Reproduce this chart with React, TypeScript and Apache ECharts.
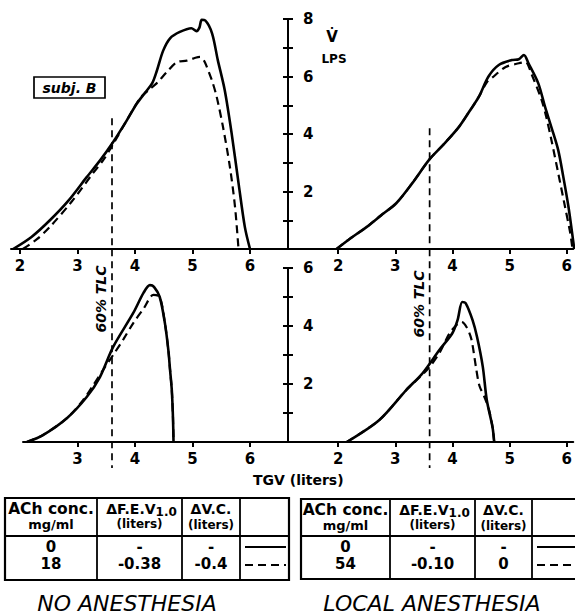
import React, { useEffect, useRef } from "react";
import * as echarts from "echarts";

type Pt = [number, number];

// ---- Data (TGV in liters, flow in liters/sec) ----
// Top-left: no anesthesia, full expiratory flow-volume curves
const noAnesControl: Pt[] = [
  [1.88, 0], [2.2, 0.42], [2.52, 1.0], [2.85, 1.7], [3.16, 2.5], [3.4, 3.1], [3.62, 3.72],
  [3.85, 4.45], [4.03, 5.05], [4.18, 5.45], [4.3, 5.77], [4.38, 6.2], [4.49, 6.9], [4.61, 7.33],
  [4.78, 7.55], [4.98, 7.68], [5.07, 7.58], [5.12, 7.7], [5.16, 7.97], [5.22, 7.95], [5.34, 7.5],
  [5.44, 6.57], [5.56, 5.53], [5.68, 4.03], [5.8, 2.3], [5.91, 0.77], [6.0, 0],
];
const noAnesACh: Pt[] = [
  [2.05, 0], [2.3, 0.35], [2.52, 0.77], [2.9, 1.65], [3.27, 2.64], [3.45, 3.1], [3.62, 3.65],
  [3.85, 4.45], [4.09, 5.25], [4.25, 5.55], [4.38, 5.77], [4.55, 6.15], [4.73, 6.5], [4.9, 6.55],
  [5.05, 6.65], [5.13, 6.68], [5.2, 6.55], [5.25, 6.33], [5.34, 5.85], [5.42, 5.3], [5.53, 4.25],
  [5.65, 2.86], [5.74, 1.46], [5.8, 0],
];
// Top-right: local anesthesia, full curves
const localControl: Pt[] = [
  [1.97, 0], [2.2, 0.35], [2.5, 0.77], [2.75, 1.17], [3.02, 1.6], [3.3, 2.3], [3.59, 3.1],
  [3.85, 3.65], [4.11, 4.24], [4.3, 4.8], [4.46, 5.29], [4.63, 6.0], [4.81, 6.4], [5.04, 6.57],
  [5.16, 6.6], [5.25, 6.75], [5.33, 6.46], [5.5, 5.77], [5.62, 4.94], [5.73, 4.24], [5.85, 3.44],
  [5.94, 2.5], [6.03, 1.46], [6.11, 0.31], [6.13, 0],
];
const localACh: Pt[] = [
  [1.97, 0], [2.2, 0.35], [2.5, 0.77], [2.75, 1.17], [3.02, 1.6], [3.3, 2.3], [3.59, 3.1],
  [3.85, 3.65], [4.11, 4.24], [4.3, 4.8], [4.46, 5.29], [4.6, 5.8], [4.69, 5.95], [4.93, 6.33],
  [5.16, 6.46], [5.28, 6.5], [5.38, 6.1], [5.56, 5.18], [5.64, 4.6], [5.73, 3.8], [5.85, 2.64],
  [5.97, 1.46], [6.06, 0.56], [6.1, 0],
];
// Bottom-left: no anesthesia, partial curves
const noAnesPartialControl: Pt[] = [
  [2.12, 0], [2.4, 0.24], [2.82, 0.83], [3.16, 1.55], [3.39, 2.24], [3.62, 3.28], [3.97, 4.45],
  [4.15, 5.15], [4.26, 5.41], [4.33, 5.35], [4.43, 5.0], [4.52, 4.1], [4.58, 3.17], [4.61, 2.48],
  [4.64, 1.79], [4.66, 0.86], [4.67, 0],
];
const noAnesPartialACh: Pt[] = [
  [2.12, 0], [2.4, 0.24], [2.82, 0.83], [3.1, 1.45], [3.27, 1.95], [3.45, 2.5], [3.62, 3.0],
  [3.8, 3.55], [3.97, 4.1], [4.15, 4.6], [4.32, 5.07], [4.43, 5.0], [4.52, 4.1], [4.58, 3.17],
  [4.61, 2.48], [4.64, 1.79], [4.66, 0.86], [4.67, 0],
];
// Bottom-right: local anesthesia, partial curves
const localPartialControl: Pt[] = [
  [2.15, 0], [2.72, 0.76], [3.19, 1.79], [3.48, 2.38], [3.77, 3.17], [4.0, 3.76], [4.09, 4.21],
  [4.17, 4.83], [4.23, 4.79], [4.35, 4.21], [4.43, 3.62], [4.53, 2.6], [4.6, 1.45], [4.7, 0.52],
  [4.73, 0],
];
const localPartialACh: Pt[] = [
  [2.15, 0], [2.72, 0.76], [3.19, 1.79], [3.43, 2.24], [3.6, 2.59], [3.78, 3.1], [3.95, 3.76],
  [4.08, 4.05], [4.16, 4.14], [4.25, 3.95], [4.33, 3.55], [4.41, 2.59], [4.47, 1.95], [4.57, 1.5],
  [4.64, 1.1], [4.7, 0.52], [4.73, 0],
];

// 60% TLC marker (liters) and the flow where the dashed marker starts/ends
const tlc60 = 3.6;
const tlcTopStartLeft = 4.55;
const tlcTopStartRight = 4.2;
const tlcBottomStart = 6.65;
const tlcBottomEnd = -0.9;

// Tick values
const topXTicks = [2, 3, 4, 5, 6];
const bottomLeftXTicks = [3, 4, 5, 6];
const bottomRightXTicks = [2, 3, 4, 5, 6];
const topFlowMax = 8;
const bottomFlowMax = 6;

// Tables
const headerCol1 = ["ACh conc.", "mg/ml"];
const headerCol2 = ["ΔF.E.V", "1.0", "(liters)"];
const headerCol3 = ["ΔV.C.", "(liters)"];
const leftRows = [["0", "-", "-"], ["18", "-0.38", "-0.4"]];
const rightRows = [["0", "-", "-"], ["54", "-0.10", "0"]];
const leftCaption = "NO ANESTHESIA";
const rightCaption = "LOCAL ANESTHESIA";

// ---- Layout ----
const FONT = '"DejaVu Sans", "Liberation Sans", Arial, sans-serif';
const S = 57.5; // px per liter
const LEFT_2PX = 20;
const RIGHT_2PX = 338.5;
const AXIS_X = 288;
const W = 575;
const TOP_Y = 19, TOP_H = 230;
const BOT_Y = 268, BOT_H = 174;
const TL_LEFT = 11;
const BL_LEFT = 23;

const toVal = (px: number, base: number) => 2 + (px - base) / S;

function xAxisFor(gridIndex: number, min: number, max: number, ticks: number[]) {
  return {
    type: "value",
    gridIndex,
    min,
    max,
    axisLine: { show: true, onZero: false, lineStyle: { color: "#000", width: 2 } },
    axisTick: { show: true, customValues: ticks, length: 5, lineStyle: { color: "#000", width: 2 } },
    axisLabel: {
      show: true,
      customValues: ticks,
      margin: 9,
      color: "#000",
      fontSize: 15,
      fontWeight: "bold",
      fontFamily: FONT,
      formatter: (v: number) => String(Math.round(v)),
    },
    splitLine: { show: false },
  };
}

function yAxisFor(gridIndex: number, max: number, position: string, showLabel: boolean) {
  return {
    type: "value",
    gridIndex,
    min: 0,
    max,
    interval: 1,
    position,
    axisLine: { show: true, onZero: false, lineStyle: { color: "#000", width: 2 } },
    axisTick: { show: true, length: 5, lineStyle: { color: "#000", width: 2 } },
    axisLabel: {
      show: showLabel,
      inside: true,
      margin: 15,
      color: "#000",
      fontSize: 15,
      fontWeight: "bold",
      fontFamily: FONT,
      formatter: (v: number) => (v % 2 === 0 && v > 0 ? String(v) : ""),
    },
    splitLine: { show: false },
  };
}

function curve(data: Pt[], idx: number, dashed: boolean) {
  return {
    type: "line",
    xAxisIndex: idx,
    yAxisIndex: idx,
    data,
    showSymbol: false,
    smooth: 0.3,
    z: dashed ? 2 : 3,
    lineStyle: dashed
      ? { color: "#000", width: 2.2, type: [8, 5] }
      : { color: "#000", width: 2.6 },
  };
}

function tlcLine(idx: number, from: number, to: number) {
  return {
    type: "line",
    xAxisIndex: idx,
    yAxisIndex: idx,
    data: [[tlc60, from], [tlc60, to]],
    showSymbol: false,
    clip: false,
    z: 1,
    lineStyle: { color: "#000", width: 1.7, type: [7, 5] },
  };
}

function txt(x: number, y: number, text: string, size: number, opts: any = {}) {
  return {
    type: "text",
    x,
    y,
    rotation: opts.rotation || 0,
    z: 10,
    style: {
      text,
      fill: "#000",
      fontSize: size,
      fontWeight: opts.weight || "bold",
      fontStyle: opts.italic ? "italic" : "normal",
      fontFamily: FONT,
      align: opts.align || "center",
      verticalAlign: "middle",
      rich: opts.rich,
    },
  };
}

function table(x0: number, x1: number, top: number, mid: number, bottom: number, cols: number[], rows: string[][]) {
  const els: any[] = [];
  els.push({ type: "rect", shape: { x: x0, y: top, width: x1 - x0, height: bottom - top }, style: { fill: "none", stroke: "#000", lineWidth: 2.2 }, z: 10 });
  els.push({ type: "line", shape: { x1: x0, y1: mid, x2: x1, y2: mid }, style: { stroke: "#000", lineWidth: 1.8 }, z: 10 });
  cols.forEach((c) => {
    els.push({ type: "line", shape: { x1: c, y1: top, x2: c, y2: bottom }, style: { stroke: "#000", lineWidth: 1.8 }, z: 10 });
  });
  const centers = [(x0 + cols[0]) / 2, (cols[0] + cols[1]) / 2, (cols[1] + cols[2]) / 2];
  const h1 = top + 11, h2 = top + 26;
  els.push(txt(centers[0], h1, headerCol1[0], 15.5));
  els.push(txt(centers[0], h2, headerCol1[1], 13));
  els.push(txt(centers[1] + 2, h1, `{a|${headerCol2[0]}}{b|${headerCol2[1]}}`, 14, {
    rich: {
      a: { fontSize: 14, fontWeight: "bold", fontFamily: FONT, fill: "#000" },
      b: { fontSize: 12, fontWeight: "bold", fontFamily: FONT, fill: "#000", padding: [6, 0, 0, 0] },
    },
  }));
  els.push(txt(centers[1], h2, headerCol2[2], 12));
  els.push(txt(centers[2], h1, headerCol3[0], 14));
  els.push(txt(centers[2], h2 + 1, headerCol3[1], 12));
  const rowY = [mid + 11, mid + 28];
  rows.forEach((r, ri) => {
    r.forEach((cell, ci) => els.push(txt(centers[ci], rowY[ri], cell, 15)));
  });
  const lx0 = cols[2] + 5, lx1 = Math.min(x1 - 3, W);
  els.push({ type: "line", shape: { x1: lx0, y1: rowY[0], x2: lx1, y2: rowY[0] }, style: { stroke: "#000", lineWidth: 2 }, z: 10 });
  els.push({ type: "line", shape: { x1: lx0, y1: rowY[1] + 1, x2: lx1, y2: rowY[1] + 1 }, style: { stroke: "#000", lineWidth: 2, lineDash: [8, 5] }, z: 10 });
  return els;
}

export default function App() {
  const ref = useRef<HTMLDivElement>(null);
  useEffect(() => {
    if (!ref.current) return;
    const chart = echarts.init(ref.current, undefined, { renderer: "svg" });
    const graphics: any[] = [
      { type: "rect", shape: { x: 34, y: 77, width: 71, height: 21 }, style: { fill: "#fff", stroke: "#000", lineWidth: 1.7 }, z: 10 },
      txt(69.5, 88, "subj. B", 14, { italic: true }),
      txt(332, 37, "V\u0307", 15),
      txt(334, 59, "LPS", 12),
      txt(101, 299, "60% TLC", 14, { italic: true, rotation: Math.PI / 2 }),
      txt(419, 304, "60% TLC", 14, { italic: true, rotation: Math.PI / 2 }),
      txt(253, 480, "TGV (liters)", 14, { align: "left" }),
      txt(127, 603, leftCaption, 22, { italic: true, weight: "normal" }),
      txt(432, 603, rightCaption, 22, { italic: true, weight: "normal" }),
      ...table(5, 289, 498, 536, 580, [97, 182, 240], leftRows),
      ...table(301, 585, 499, 536, 579, [390, 475, 532], rightRows),
    ];
    chart.setOption({
      animation: false,
      backgroundColor: "#fff",
      grid: [
        { left: TL_LEFT, top: TOP_Y, width: AXIS_X - TL_LEFT, height: TOP_H },
        { left: AXIS_X, top: TOP_Y, width: W - AXIS_X, height: TOP_H },
        { left: BL_LEFT, top: BOT_Y, width: AXIS_X - BL_LEFT, height: BOT_H },
        { left: AXIS_X, top: BOT_Y, width: W - AXIS_X, height: BOT_H },
      ],
      xAxis: [
        xAxisFor(0, toVal(TL_LEFT, LEFT_2PX), toVal(AXIS_X, LEFT_2PX), topXTicks),
        xAxisFor(1, toVal(AXIS_X, RIGHT_2PX), toVal(W, RIGHT_2PX), topXTicks),
        xAxisFor(2, toVal(BL_LEFT, LEFT_2PX), toVal(AXIS_X, LEFT_2PX), bottomLeftXTicks),
        xAxisFor(3, toVal(AXIS_X, RIGHT_2PX), toVal(W, RIGHT_2PX), bottomRightXTicks),
      ],
      yAxis: [
        yAxisFor(0, topFlowMax, "right", false),
        yAxisFor(1, topFlowMax, "left", true),
        yAxisFor(2, bottomFlowMax, "right", false),
        yAxisFor(3, bottomFlowMax, "left", true),
      ],
      series: [
        curve(noAnesACh, 0, true),
        curve(noAnesControl, 0, false),
        curve(localACh, 1, true),
        curve(localControl, 1, false),
        curve(noAnesPartialACh, 2, true),
        curve(noAnesPartialControl, 2, false),
        curve(localPartialACh, 3, true),
        curve(localPartialControl, 3, false),
        tlcLine(0, tlcTopStartLeft, 0),
        tlcLine(1, tlcTopStartRight, 0),
        tlcLine(2, tlcBottomStart, tlcBottomEnd),
        tlcLine(3, tlcBottomStart, tlcBottomEnd),
      ],
      graphic: graphics,
    });
    return () => chart.dispose();
  }, []);
  return (
    <div
      ref={ref}
      style={{ position: "fixed", left: 0, top: 0, width: 575, height: 615, background: "#fff" }}
    />
  );
}
